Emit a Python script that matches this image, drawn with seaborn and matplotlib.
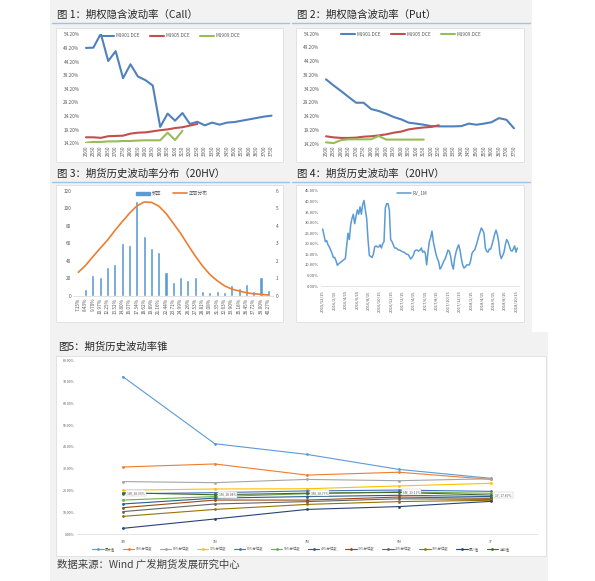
import matplotlib
matplotlib.use('Agg')
import matplotlib.pyplot as plt
import matplotlib.patches as mpatches
import matplotlib.lines as mlines
import seaborn as sns
import pandas as pd

# ---------------- data ----------------
strikes = ['2500', '2550', '2600', '2650', '2700', '2750', '2800', '2850', '2900',
           '2950', '3000', '3050', '3100', '3150', '3200', '3250', '3300', '3350',
           '3400', '3450', '3500', '3550', '3600', '3650', '3700', '3750']
contracts = ['M1901.DCE', 'M1905.DCE', 'M1909.DCE']

call_m1901 = [49.2, 49.3, 54.4, 44.4, 48.0, 38.1, 43.2, 38.7, 37.4, 35.4, 20.2, 25.1, 22.5,
              25.3, 21.3, 22.1, 20.8, 21.8, 21.05, 21.8, 22.0, 22.5, 23.0, 23.5, 24.0, 24.35]
call_m1905 = [16.4, 16.4, 16.2, 16.8, 16.9, 17.0, 17.75, 18.1, 18.2, 18.6, 19.0, 19.3, 19.8,
              20.1, 20.7, 21.3]
call_m1909 = [14.4, 14.7, 14.7, 14.9, 14.9, 15.05, 15.05, 15.2, 15.3, 15.3, 15.3, 18.1, 15.4, 18.8]

put_m1901 = [37.6, 35.4, 33.35, 31.2, 29.1, 29.1, 26.8, 26.1, 25.1, 23.9, 23.05, 21.85, 21.5,
             21.1, 20.6, 20.5, 20.5, 20.5, 20.6, 21.5, 21.1, 21.5, 22.0, 23.5, 22.9, 19.8]
put_m1905 = [16.9, 16.5, 16.3, 16.3, 16.4, 16.75, 16.9, 17.2, 17.6, 18.2, 18.6, 19.4, 19.8,
             20.1, 20.3, 20.9]
put_m1909 = [14.7, 14.4, 15.5, 15.8, 15.8, 15.8, 15.8, 17.0, 15.7, 15.7, 15.7, 15.7, 15.7, 15.7]

iv_ticks = [14.2, 19.2, 24.2, 29.2, 34.2, 39.2, 44.2, 49.2, 54.2]

hv_bins = ['7.15%', '8.43%', '9.70%', '10.97%', '12.25%', '13.52%', '14.80%', '16.07%',
           '17.34%', '18.62%', '19.89%', '21.16%', '22.44%', '23.71%', '24.99%', '26.26%',
           '27.53%', '28.81%', '30.08%', '31.35%', '32.63%', '33.90%', '35.18%', '36.45%',
           '37.72%', '39.00%', '40.27%']
hv_freq = [0, 8, 24, 21, 33, 36, 60, 58, 108, 68, 55, 50, 27, 16, 21, 18, 21, 5, 4, 5, 4,
           12, 9, 13, 5, 21, 7]
hv_normal = [1.34, 1.74, 2.24, 2.72, 3.19, 3.73, 4.24, 4.72, 5.14, 5.37, 5.35, 5.14, 4.72,
             4.15, 3.58, 2.91, 2.28, 1.70, 1.22, 0.86, 0.57, 0.38, 0.27, 0.17, 0.11, 0.08, 0.04]

rv_dates = ['2015/12/15', '2016/2/15', '2016/4/15', '2016/6/15', '2016/8/15', '2016/10/15',
            '2016/12/15', '2017/2/15', '2017/4/15', '2017/6/15', '2017/8/15', '2017/10/15',
            '2017/12/15', '2018/2/15', '2018/4/15', '2018/6/15', '2018/8/15', '2018/10/15']
rv_1m = [
    27, 24, 21, 21.5, 19.5, 18.5, 17, 15.5, 13.5, 13.5,
    12, 9.8, 10.5, 11, 11.5, 12, 12.5, 13, 19, 25,
    22, 29, 32, 34, 29.5, 33, 36, 34, 37.5, 34,
    38.5, 40.5, 36, 32, 22, 14.5, 14, 13.5, 15, 18.5,
    19, 18.5, 18.5, 19.5, 18, 20, 21, 37, 39, 39,
    36, 22, 21, 19.5, 18, 18, 17.5, 17, 17, 16.5,
    16.2, 16, 15.5, 15, 15, 14, 12.8, 13.5, 14.5, 16.5,
    17, 17, 16.5, 17, 18, 16, 16.5, 15.5, 10, 16,
    21, 23, 26, 21, 18, 15, 13, 11.5, 8, 9,
    10.5, 12, 13, 15, 17, 16.5, 14, 10, 8, 13,
    16, 18, 19.5, 17, 13, 10, 8.5, 9, 10, 10,
    10, 12, 15.5, 16.5, 17, 19, 21, 23.5, 25.5, 27.5,
    26.5, 25, 18, 16.5, 16, 17.5, 17.5, 19.5, 22, 24.5,
    26.5, 24.5, 21, 15, 13, 14.5, 16, 19.5, 22, 21,
    19, 17, 16.5, 17.5, 19, 16, 18,
]

cone_terms = ['1W', '1M', '3M', '6M', '1Y']
cone_names = ['最大值', '90%分位数', '80%分位数', '70%分位数', '60%分位数', '50%分位数',
              '40%分位数', '30%分位数', '20%分位数', '10%分位数', '最小值', '当前值']
cone_values = [
    [72.4, 41.5, 36.6, 29.7, 25.6],
    [30.8, 32.2, 27.1, 28.4, 25.1],
    [24.1, 23.6, 25.1, 24.5, 25.4],
    [20.1, 20.7, 20.8, 22.1, 23.3],
    [18.5, 19.0, 19.8, 20.2, 19.6],
    [15.6, 17.2, 18.5, 19.4, 18.7],
    [13.8, 16.5, 17.2, 17.8, 17.2],
    [12.1, 15.6, 15.6, 17.0, 16.4],
    [10.3, 13.8, 14.9, 16.2, 15.9],
    [8.1, 11.3, 13.6, 14.9, 15.5],
    [2.6, 6.9, 11.3, 12.6, 15.0],
    [18.93, 18.04, 18.77, 19.11, 17.89],
]

# ---------------- layout helpers ----------------
W, H = 595, 581
TXT = '#595959'


def box(x0, y0, x1, y1):
    return [x0 / W, 1 - y1 / H, (x1 - x0) / W, (y1 - y0) / H]


def fx(x):
    return x / W


def fy(y):
    return 1 - y / H


sns.set_style('white')
plt.rcParams['font.family'] = ['Noto Sans CJK SC', 'DejaVu Sans']
plt.rcParams['axes.unicode_minus'] = False

fig = plt.figure(figsize=(W / 100, H / 100), dpi=100)
fig.patch.set_facecolor('white')


def panel(x0, y0, x1, y1, fc, ec='none', lw=0.0):
    fig.add_artist(mpatches.Rectangle((fx(x0), fy(y1)), (x1 - x0) / W, (y1 - y0) / H,
                                      transform=fig.transFigure, facecolor=fc,
                                      edgecolor=ec, linewidth=lw, zorder=-10))


panel(50, 0, 532, 333, '#f2f2f2')
panel(50, 332, 548, 581, '#f2f2f2')
for b in [(56, 28, 283, 162), (296, 28, 524, 162), (56, 185, 283, 322),
          (296, 185, 524, 322), (56, 355.5, 546, 555.5)]:
    panel(*b, fc='white', ec='#d9d9d9', lw=0.5)

for (x0, x1, y) in [(52, 289, 23), (292, 530, 23), (52, 289, 182.5), (292, 530, 182.5)]:
    fig.add_artist(mlines.Line2D([fx(x0), fx(x1)], [fy(y), fy(y)], color='#9dc3e6',
                                 lw=1.0, transform=fig.transFigure))

title_kw = dict(fontsize=7.5, va='center', ha='left', color='#262626')
fig.text(fx(57), fy(14.5), '图 1：期权隐含波动率（Call）', **title_kw)
fig.text(fx(297), fy(14.5), '图 2：期权隐含波动率（Put）', **title_kw)
fig.text(fx(57), fy(174), '图 3：期货历史波动率分布（20HV）', **title_kw)
fig.text(fx(297), fy(174), '图 4：期货历史波动率（20HV）', **title_kw)
fig.text(fx(58), fy(347), '图5：期货历史波动率锥', **title_kw)
fig.text(fx(57), fy(565), '数据来源：Wind 广发期货发展研究中心', fontsize=7.5,
         va='center', ha='left', color='#404040')


def style_axes(ax, size=3.4):
    for s in ['top', 'right', 'left']:
        ax.spines[s].set_visible(False)
    ax.spines['bottom'].set_color('#d9d9d9')
    ax.spines['bottom'].set_linewidth(0.5)
    ax.tick_params(axis='both', length=0, labelsize=size, pad=1.5, labelcolor=TXT)
    ax.set_xlabel('')
    ax.set_ylabel('')


iv_colors = ['#4F81BD', '#C0504D', '#9BBB59']


def iv_chart(rect, s1, s2, s3, legend_center):
    ax = fig.add_axes(rect)
    frames = []
    for name, vals in zip(contracts, [s1, s2, s3]):
        frames.append(pd.DataFrame({'pos': range(len(vals)), 'iv': vals, 'contract': name}))
    df = pd.concat(frames, ignore_index=True)
    sns.lineplot(data=df, x='pos', y='iv', hue='contract', palette=iv_colors, lw=1.5,
                 ax=ax)
    ax.set_xlim(-0.6, len(strikes) - 0.4)
    ax.set_ylim(14.2, 54.2)
    ax.set_xticks(range(len(strikes)), strikes, rotation=90)
    ax.set_yticks(iv_ticks, [f'{t:.2f}%' for t in iv_ticks])
    style_axes(ax, 3.4)
    ax.spines['bottom'].set_visible(False)
    ax.legend(ncol=3, loc='center', bbox_to_anchor=legend_center,
              bbox_transform=fig.transFigure, frameon=False, fontsize=3.4,
              handlelength=3.0, handletextpad=0.4, columnspacing=2.0,
              labelcolor=TXT)
    return ax


iv_chart(box(81.5, 34.3, 276, 143.3), call_m1901, call_m1905, call_m1909,
         (fx(170), fy(35.7)))
iv_chart(box(321.5, 33.7, 518.5, 143.7), put_m1901, put_m1905, put_m1909,
         (fx(411), fy(34.5)))

# ---------- chart 3: HV distribution ----------
ax3 = fig.add_axes(box(73.2, 191, 273.4, 295.7))
sns.barplot(x=hv_bins, y=hv_freq, color='#5B9BD5', width=0.42, saturation=1, ax=ax3)
ax3.set_xlim(-0.7, len(hv_bins) - 0.3)
ax3.set_ylim(0, 120)
ax3.set_yticks(range(0, 121, 20))
ax3.set_xticks(range(len(hv_bins)), hv_bins, rotation=90)
style_axes(ax3, 3.4)
ax3b = ax3.twinx()
sns.lineplot(x=list(range(len(hv_bins))), y=hv_normal, color='#ED7D31', lw=1.2, ax=ax3b)
ax3b.set_ylim(0, 6)
ax3b.set_yticks(range(0, 7))
style_axes(ax3b, 3.4)
ax3b.spines['bottom'].set_visible(False)
ax3b.set_xlim(-0.7, len(hv_bins) - 0.3)
h_bar = mpatches.Patch(color='#5B9BD5', label='频率')
h_line = mlines.Line2D([], [], color='#ED7D31', lw=1.2, label='正态分布')
ax3b.legend(handles=[h_bar, h_line], ncol=2, loc='center',
            bbox_to_anchor=(fx(172), fy(193.3)), bbox_transform=fig.transFigure,
            frameon=False, fontsize=3.4, handlelength=3.0, handleheight=0.6,
            handletextpad=0.4, columnspacing=2.5, labelcolor=TXT)

# ---------- chart 4: RV_1M ----------
ax4 = fig.add_axes(box(321, 191, 519, 286))
rv_index = pd.date_range('2015-12-15', '2018-10-22', periods=len(rv_1m))
df4 = pd.DataFrame({'date': rv_index, 'RV_1M': rv_1m})
sns.lineplot(data=df4, x='date', y='RV_1M', color='#5B9BD5', lw=1.1, ax=ax4, label='RV_1M')
ax4.set_xlim(pd.Timestamp('2015-12-06'), pd.Timestamp('2018-10-31'))
ax4.set_ylim(0, 45)
yt4 = list(range(0, 46, 5))
ax4.set_yticks(yt4, [f'{t:.2f}%' for t in yt4])
ax4.set_xticks(pd.to_datetime(rv_dates, format='%Y/%m/%d'), rv_dates, rotation=90)
style_axes(ax4, 3.0)
ax4.tick_params(axis='x', length=1.5, color='#d9d9d9', width=0.4)
ax4.legend(loc='center', bbox_to_anchor=(fx(412), fy(193.3)), bbox_transform=fig.transFigure,
           frameon=False, fontsize=3.4, handlelength=3.0, handletextpad=0.4, labelcolor=TXT)

# ---------- chart 5: volatility cone ----------
cone_colors = ['#5B9BD5', '#ED7D31', '#A5A5A5', '#FFC000', '#4472C4', '#70AD47',
               '#255E91', '#9E480E', '#636363', '#997300', '#264478', '#43682B']
ax5 = fig.add_axes(box(76.7, 360, 537, 534))
for name, vals, c in zip(cone_names, cone_values, cone_colors):
    sns.lineplot(x=list(range(len(cone_terms))), y=vals, color=c, lw=0.8, marker='o',
                 markersize=2.0, markeredgewidth=0, label=name, ax=ax5)
current = cone_values[-1]
for i, v in enumerate(current):
    ax5.annotate(f'{cone_terms[i]}, {v:.2f}%', (i, v), xytext=(3, 0),
                 textcoords='offset points', fontsize=2.4, va='center', ha='left',
                 color=TXT, bbox=dict(boxstyle='square,pad=0.3', fc='white',
                                      ec='#bfbfbf', lw=0.3))
ax5.set_xlim(-0.5, len(cone_terms) - 0.5)
ax5.set_ylim(0, 80)
yt5 = list(range(0, 81, 10))
ax5.set_yticks(yt5, [f'{t:.2f}%' for t in yt5])
ax5.set_xticks(range(len(cone_terms)), cone_terms)
style_axes(ax5, 2.5)
ax5.tick_params(axis='x', pad=4)
ax5.legend(ncol=12, loc='center', bbox_to_anchor=(fx(301), fy(549.3)),
           bbox_transform=fig.transFigure, frameon=False, fontsize=2.4,
           handlelength=3.5, handletextpad=0.4, columnspacing=2.2, labelcolor=TXT)

fig.savefig('out.png', dpi=100)
